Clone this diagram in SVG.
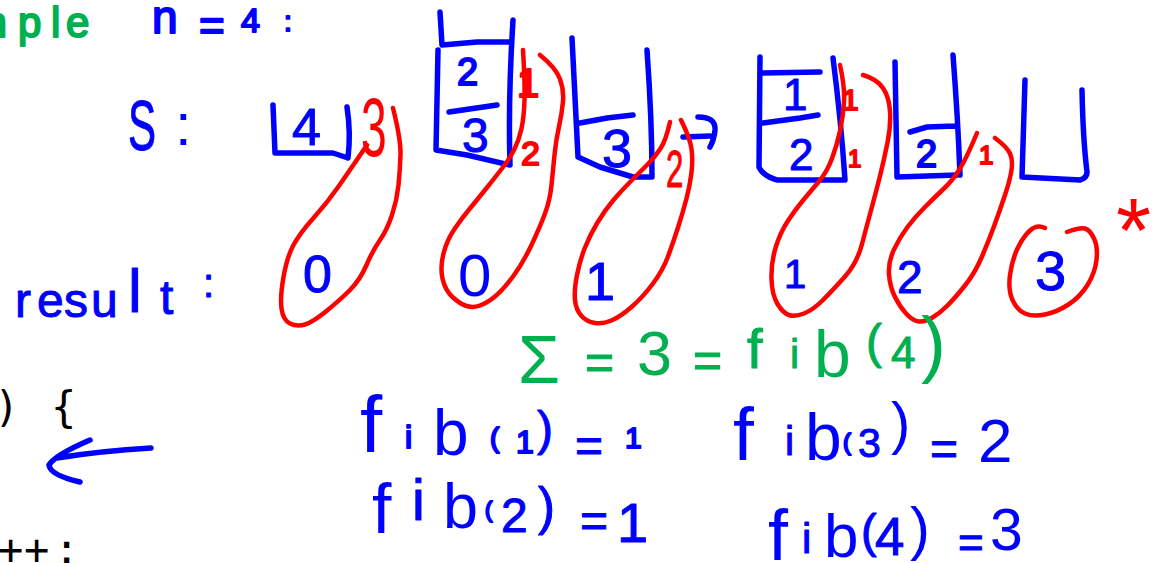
<svg xmlns="http://www.w3.org/2000/svg" width="1163" height="563" viewBox="0 0 1163 563">
<style>
.b{fill:none;stroke:#0000ff;stroke-width:5.5;stroke-linecap:round;stroke-linejoin:round}
.r{fill:none;stroke:#ff0000;stroke-width:4.5;stroke-linecap:round;stroke-linejoin:round}
.h{font-family:"Liberation Sans",Arial,sans-serif;stroke-width:1;stroke-linejoin:round}
.tb{fill:#0000ff;stroke:#0000ff}
.tr{fill:#ff0000;stroke:#ff0000}
.tg{fill:#00b050;stroke:#00b050}
.k0{stroke-width:0}
.k2{stroke-width:2}
.code{font-family:"DejaVu Sans Mono","Liberation Mono",monospace;fill:#000}
</style>
<rect width="1163" height="563" fill="#fff"/>

<g id="header">
<text class="h tg k2" y="37" font-size="42"><tspan x="-28">m</tspan><tspan x="18">p</tspan><tspan x="51">l</tspan><tspan x="66">e</tspan></text>
<text class="h tb k2"><tspan x="152" y="33" font-size="46">n</tspan><tspan x="199" y="41" font-size="44">=</tspan><tspan x="241" y="32" font-size="34">4</tspan><tspan x="284" y="31" font-size="28">:</tspan></text>
<text class="h tb" font-size="70" transform="translate(128 150) scale(0.6 1)">S</text>
<text class="h tb k0" x="175" y="145" font-size="60">:</text>
</g>

<g id="stack1">
<path class="b" d="M273,105 L275,153 L333,153 L348,158 M347,107 Q351,133 348,158"/>
<text class="h tb" x="292" y="145" font-size="52">4</text>
</g>

<g id="stack2">
<path class="b" d="M440,12 L442,45 M438,50 L436,150 L467,155 L510,165 M442,45 L477,42 L510,42 M513,20 Q508,100 510,165 M449,112 L497,105"/>
<text class="h tb k2" x="457" y="85" font-size="38">2</text>
<text class="h tb" x="462" y="152" font-size="48">3</text>
</g>

<g id="stack3">
<path class="b" d="M572,38 L578,157 L600,167 L633,177 L652,177 M647,50 Q652,120 652,177 M580,123 L607,118 L633,115"/>
<text class="h tb" x="602" y="167" font-size="54">3</text>
</g>

<g id="stack4">
<path class="b" d="M760,57 L759,167 Q762,175 777,180 L845,180 M833,58 Q841,120 845,180 M762,73 L820,72 M763,123 L800,118 L818,115"/>
<text class="h tb" x="783" y="110" font-size="44">1</text>
<text class="h tb" x="789" y="170" font-size="44">2</text>
</g>

<g id="stack5">
<path class="b" d="M895,62 L897,177 L957,175 M910,132 L927,127 L955,126 M953,55 Q958,120 960,175"/>
<text class="h tb k2" x="916" y="167" font-size="38">2</text>
</g>

<g id="stack6">
<path class="b" d="M1025,80 L1022,177 L1080,180 Q1087,178 1087,172 M1082,90 Q1083,140 1087,172"/>
</g>

<g id="connectors">
<path class="b" d="M683,137 L710,136 M698,117 Q716,117 715,130 Q714,140 710,147"/>
<path class="r" d="M367,145 Q350,170 338.5,186.5 Q327,203 313.5,218 Q300,233 293.5,245 Q287,257 283.5,277 Q280,297 281.5,308.5 Q283,320 290,323.5 Q297,327 305,324.5 Q313,322 326.5,311 Q340,300 350,290 Q360,280 366.5,265 Q373,250 380,240 Q387,230 392,215 Q397,200 398.5,185 Q400,170 400.5,155 Q401,140 393,108"/>
<path class="r" d="M523,50 Q525,83 524.5,100 Q524,117 521.5,128.5 Q519,140 514.5,149 Q510,158 503.5,166.5 Q497,175 487,187.5 Q477,200 469.5,209 Q462,218 454.5,229 Q447,240 443.5,253.5 Q440,267 442.5,278.5 Q445,290 452.5,297 Q460,304 466.5,306 Q473,308 480,305.5 Q487,303 495,296.5 Q503,290 513,276.5 Q523,263 531.5,245 Q540,227 545,213.5 Q550,200 551.5,185 Q553,170 554.5,155 Q556,140 559,126.5 Q562,113 563,101.5 Q564,90 560,79 Q556,68 540,55"/>
<path class="r" d="M670,122 Q666,140 660.5,148.5 Q655,157 647.5,164.5 Q640,172 631,181 Q622,190 613.5,200 Q605,210 597.5,222.5 Q590,235 585,247.5 Q580,260 577,275 Q574,290 575,300 Q576,310 581.5,316 Q587,322 595,323 Q603,324 611.5,320.5 Q620,317 631.5,307 Q643,297 653,283.5 Q663,270 668,256.5 Q673,243 678,227.5 Q683,212 686.5,198.5 Q690,185 691.5,172.5 Q693,160 691.5,149 Q690,138 681,120"/>
<path class="r" d="M840,65 Q845,88 844,102.5 Q843,117 840,131 Q837,145 832,158.5 Q827,172 818.5,182 Q810,192 802.5,201 Q795,210 787.5,221.5 Q780,233 775.5,248 Q771,263 771.5,279 Q772,295 777.5,304 Q783,313 789,315 Q795,317 804,313.5 Q813,310 823,300 Q833,290 845,276.5 Q857,263 862,244 Q867,225 871.5,208.5 Q876,192 880,176 Q884,160 887.5,142.5 Q891,125 890,111 Q889,97 883,88 Q877,79 863,75"/>
<path class="r" d="M977,133 Q967,157 960,168.5 Q953,180 944,188.5 Q935,197 925,207 Q915,217 907.5,227 Q900,237 894,249.5 Q888,262 889,274.5 Q890,287 895,297 Q900,307 906.5,314 Q913,321 919,321.5 Q925,322 932.5,317.5 Q940,313 947.5,305.5 Q955,298 965,285.5 Q975,273 982,256.5 Q989,240 994.5,225 Q1000,210 1005,195 Q1010,180 1011.5,170 Q1013,160 1010,153.5 Q1007,147 995,138"/>
<path class="r" d="M1045,228 Q1037,224 1030,230.5 Q1023,237 1017.5,248.5 Q1012,260 1010,275 Q1008,290 1012.5,300 Q1017,310 1025,313.5 Q1033,317 1045,314.5 Q1057,312 1068.5,304.5 Q1080,297 1087.5,285 Q1095,273 1096.5,260 Q1098,247 1094,238.5 Q1090,230 1085,228.5 Q1080,227 1067,232"/>
<path class="b" d="M151,448 Q100,451 57,458 M90,440 Q55,455 49,465 Q50,475 80,482"/>
</g>

<g id="red-labels">
<text class="h tr k0" font-size="84" transform="translate(361 156) scale(0.55 1)">3</text>
<text class="h tr k2" x="517" y="97" font-size="40">1</text>
<text class="h tr k2" x="521" y="165" font-size="34">2</text>
<text class="h tr" font-size="52" transform="translate(666 187) scale(0.6 1)">2</text>
<text class="h tr k2" x="842" y="110" font-size="30">1</text>
<text class="h tr k2" x="848" y="167" font-size="24">1</text>
<text class="h tr k2" x="979" y="164" font-size="26">1</text>
<text class="h tr k0" x="1116" y="262" font-size="90">*</text>
</g>

<g id="result">
<text class="h tb" font-size="48"><tspan x="15" y="317">r</tspan><tspan x="37" y="317">e</tspan><tspan x="64" y="317">s</tspan><tspan x="91" y="317">u</tspan><tspan x="128" y="312" font-size="62">l</tspan><tspan x="160" y="314">t</tspan><tspan x="203" y="297" font-size="40">:</tspan></text>
<text class="h tb" x="303" y="292" font-size="52">0</text>
<text class="h tb k0" x="458" y="296" font-size="60">0</text>
<text class="h tb" x="585" y="300" font-size="54">1</text>
<text class="h tb" x="784" y="288" font-size="40">1</text>
<text class="h tb" x="897" y="293" font-size="46">2</text>
<text class="h tb" x="1035" y="290" font-size="56">3</text>
</g>

<g id="sum">
<text class="h tg"><tspan x="518" y="383" font-size="68" class="k0">Σ</tspan><tspan x="585" y="379" font-size="50">=</tspan><tspan x="637" y="375" font-size="63" class="k0">3</tspan><tspan x="693" y="377" font-size="50">=</tspan><tspan x="747" y="368" font-size="56">f</tspan><tspan x="790" y="368" font-size="41">i</tspan><tspan x="814" y="377" font-size="66" class="k0">b</tspan><tspan x="866" y="358" font-size="48">(</tspan><tspan x="891" y="368" font-size="44">4</tspan><tspan x="921" y="369" font-size="75" class="k0">)</tspan></text>
</g>

<g id="fib-values">
<text class="h tb"><tspan x="360" y="452" font-size="80" class="k0">f</tspan><tspan x="405" y="448" font-size="32" class="k2">i</tspan><tspan x="433" y="455" font-size="64" class="k0">b</tspan><tspan x="490" y="447" font-size="28" class="k2">(</tspan><tspan x="516" y="453" font-size="32" class="k2">1</tspan><tspan x="537" y="445" font-size="48">)</tspan><tspan x="575" y="462" font-size="48">=</tspan><tspan x="625" y="448" font-size="30" class="k2">1</tspan></text>
<text class="h tb"><tspan x="372" y="533" font-size="70" class="k0">f</tspan><tspan x="412" y="520" font-size="58">i</tspan><tspan x="443" y="528" font-size="63" class="k0">b</tspan><tspan x="485" y="517" font-size="22" class="k2">(</tspan><tspan x="501" y="532" font-size="48">2</tspan><tspan x="538" y="524" font-size="51">)</tspan><tspan x="580" y="537" font-size="48">=</tspan><tspan x="617" y="542" font-size="56">1</tspan></text>
<text class="h tb"><tspan x="733" y="460" font-size="75" class="k0">f</tspan><tspan x="785" y="455" font-size="41">i</tspan><tspan x="805" y="460" font-size="66" class="k0">b</tspan><tspan x="843" y="450" font-size="24" class="k2">(</tspan><tspan x="858" y="457" font-size="41">3</tspan><tspan x="891" y="443" font-size="58" class="k0">)</tspan><tspan x="930" y="465" font-size="48">=</tspan><tspan x="978" y="462" font-size="62" class="k0">2</tspan></text>
<text class="h tb"><tspan x="768" y="560" font-size="72" class="k0">f</tspan><tspan x="802" y="553" font-size="42">i</tspan><tspan x="824" y="557" font-size="62" class="k0">b</tspan><tspan x="861" y="547" font-size="47">(</tspan><tspan x="875" y="555" font-size="53">4</tspan><tspan x="910" y="549" font-size="60" class="k0">)</tspan><tspan x="958" y="558" font-size="44">=</tspan><tspan x="990" y="550" font-size="59" class="k0">3</tspan></text>
</g>

<g id="code">
<text class="code" y="422" font-size="42"><tspan x="-6">)</tspan><tspan x="20"> </tspan><tspan x="51">{</tspan></text>
<text class="code" y="564" font-size="42"><tspan x="-2">+</tspan><tspan x="24">+</tspan><tspan x="54">:</tspan></text>
</g>
</svg>
